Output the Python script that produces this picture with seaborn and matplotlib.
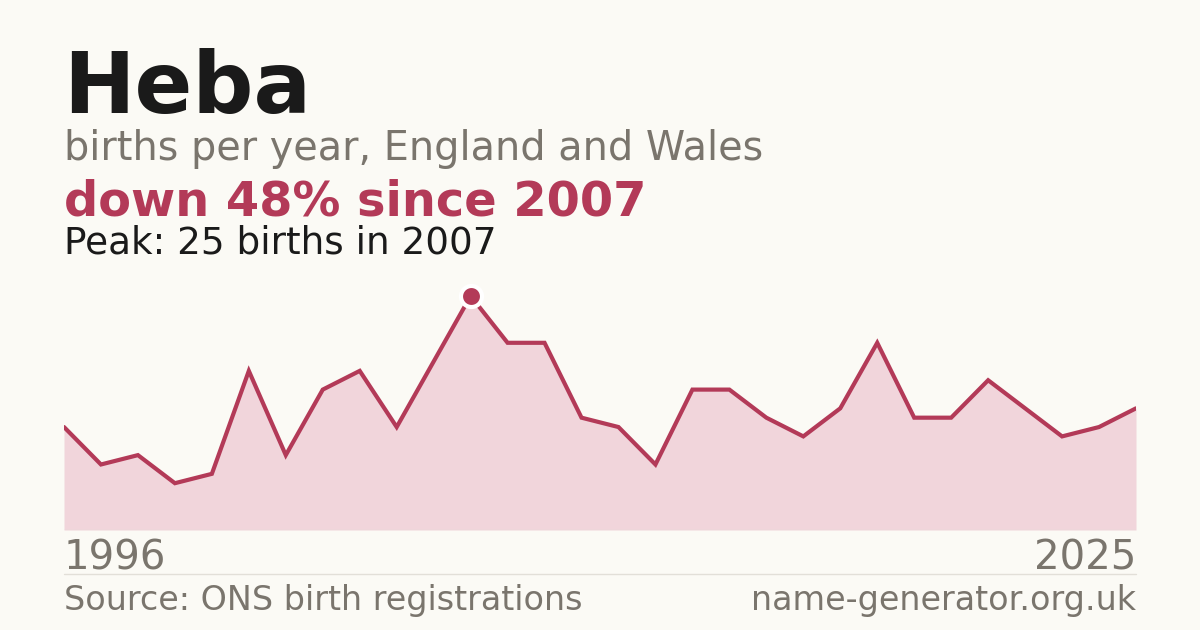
import matplotlib
matplotlib.use("Agg")
import matplotlib.pyplot as plt
import seaborn as sns
import pandas as pd

years = list(range(1996, 2026))
births = [11, 7, 8, 5, 6, 17, 8, 15, 17, 11, 18, 25, 20, 20, 12, 11, 7, 15, 15, 12,
          10, 13, 20, 12, 12, 16, 13, 10, 11, 13]

name = "Heba"
subtitle = "births per year, England and Wales"
change_text = "down 48% since 2007"
peak_text = "Peak: 25 births in 2007"
source_text = "Source: ONS birth registrations"
site_text = "name-generator.org.uk"

BG = "#fbfaf5"
DARK = "#1a1a1a"
GRAY = "#7a756d"
RED = "#b33a58"
FILL = "#f1d5db"
RULE = "#e2dfd8"

sns.set_theme(style="white")
plt.rcParams['font.family'] = ['DejaVu Sans']

df = pd.DataFrame({"year": years, "births": births})

W, H = 1200, 630
fig = plt.figure(figsize=(12, 6.3), dpi=100, facecolor=BG)

# axes: x 64..1136 px, y 280..530 px
ax = fig.add_axes([64 / W, (H - 530) / H, 1072 / W, 250 / H])
ax.set_facecolor(BG)
ax.fill_between(df["year"], df["births"], 0, color=FILL, linewidth=0, zorder=1)
sns.lineplot(data=df, x="year", y="births", ax=ax, color=RED, linewidth=3.0,
             solid_joinstyle="miter", zorder=3)
pk = df.loc[df["births"].idxmax()]
ax.scatter([pk["year"]], [pk["births"]], s=230, color=RED, edgecolor="white",
           linewidth=3, zorder=5, clip_on=False)
ax.axhline(0, color=RULE, linewidth=1, zorder=2)
ax.set_xlim(years[0], years[-1])
ax.set_ylim(0, 250 / 9.36)
ax.axis("off")

def px(x, y):
    return x / W, 1 - y / H

fig.text(*px(63, 113), name, fontsize=61.5, fontweight="bold", color=DARK, va="baseline", ha="left")
fig.text(*px(64, 160), subtitle, fontsize=28.6, color=GRAY, va="baseline", ha="left")
fig.text(*px(64, 215), change_text, fontsize=34.5, fontweight="bold", color=RED, va="baseline", ha="left")
fig.text(*px(64, 254), peak_text, fontsize=26.9, color=DARK, va="baseline", ha="left")

fig.text(*px(64, 569), str(years[0]), fontsize=29, color=GRAY, va="baseline", ha="left")
fig.text(*px(1136, 569), str(years[-1]), fontsize=29, color=GRAY, va="baseline", ha="right")

fig.add_artist(plt.Line2D([64 / W, 1136 / W], [1 - 574 / H, 1 - 574 / H], color=RULE, linewidth=1))

fig.text(*px(64, 610), source_text, fontsize=24, color=GRAY, va="baseline", ha="left")
fig.text(*px(1136, 610), site_text, fontsize=24, color=GRAY, va="baseline", ha="right")

fig.savefig("out.png", dpi=100, facecolor=BG)
